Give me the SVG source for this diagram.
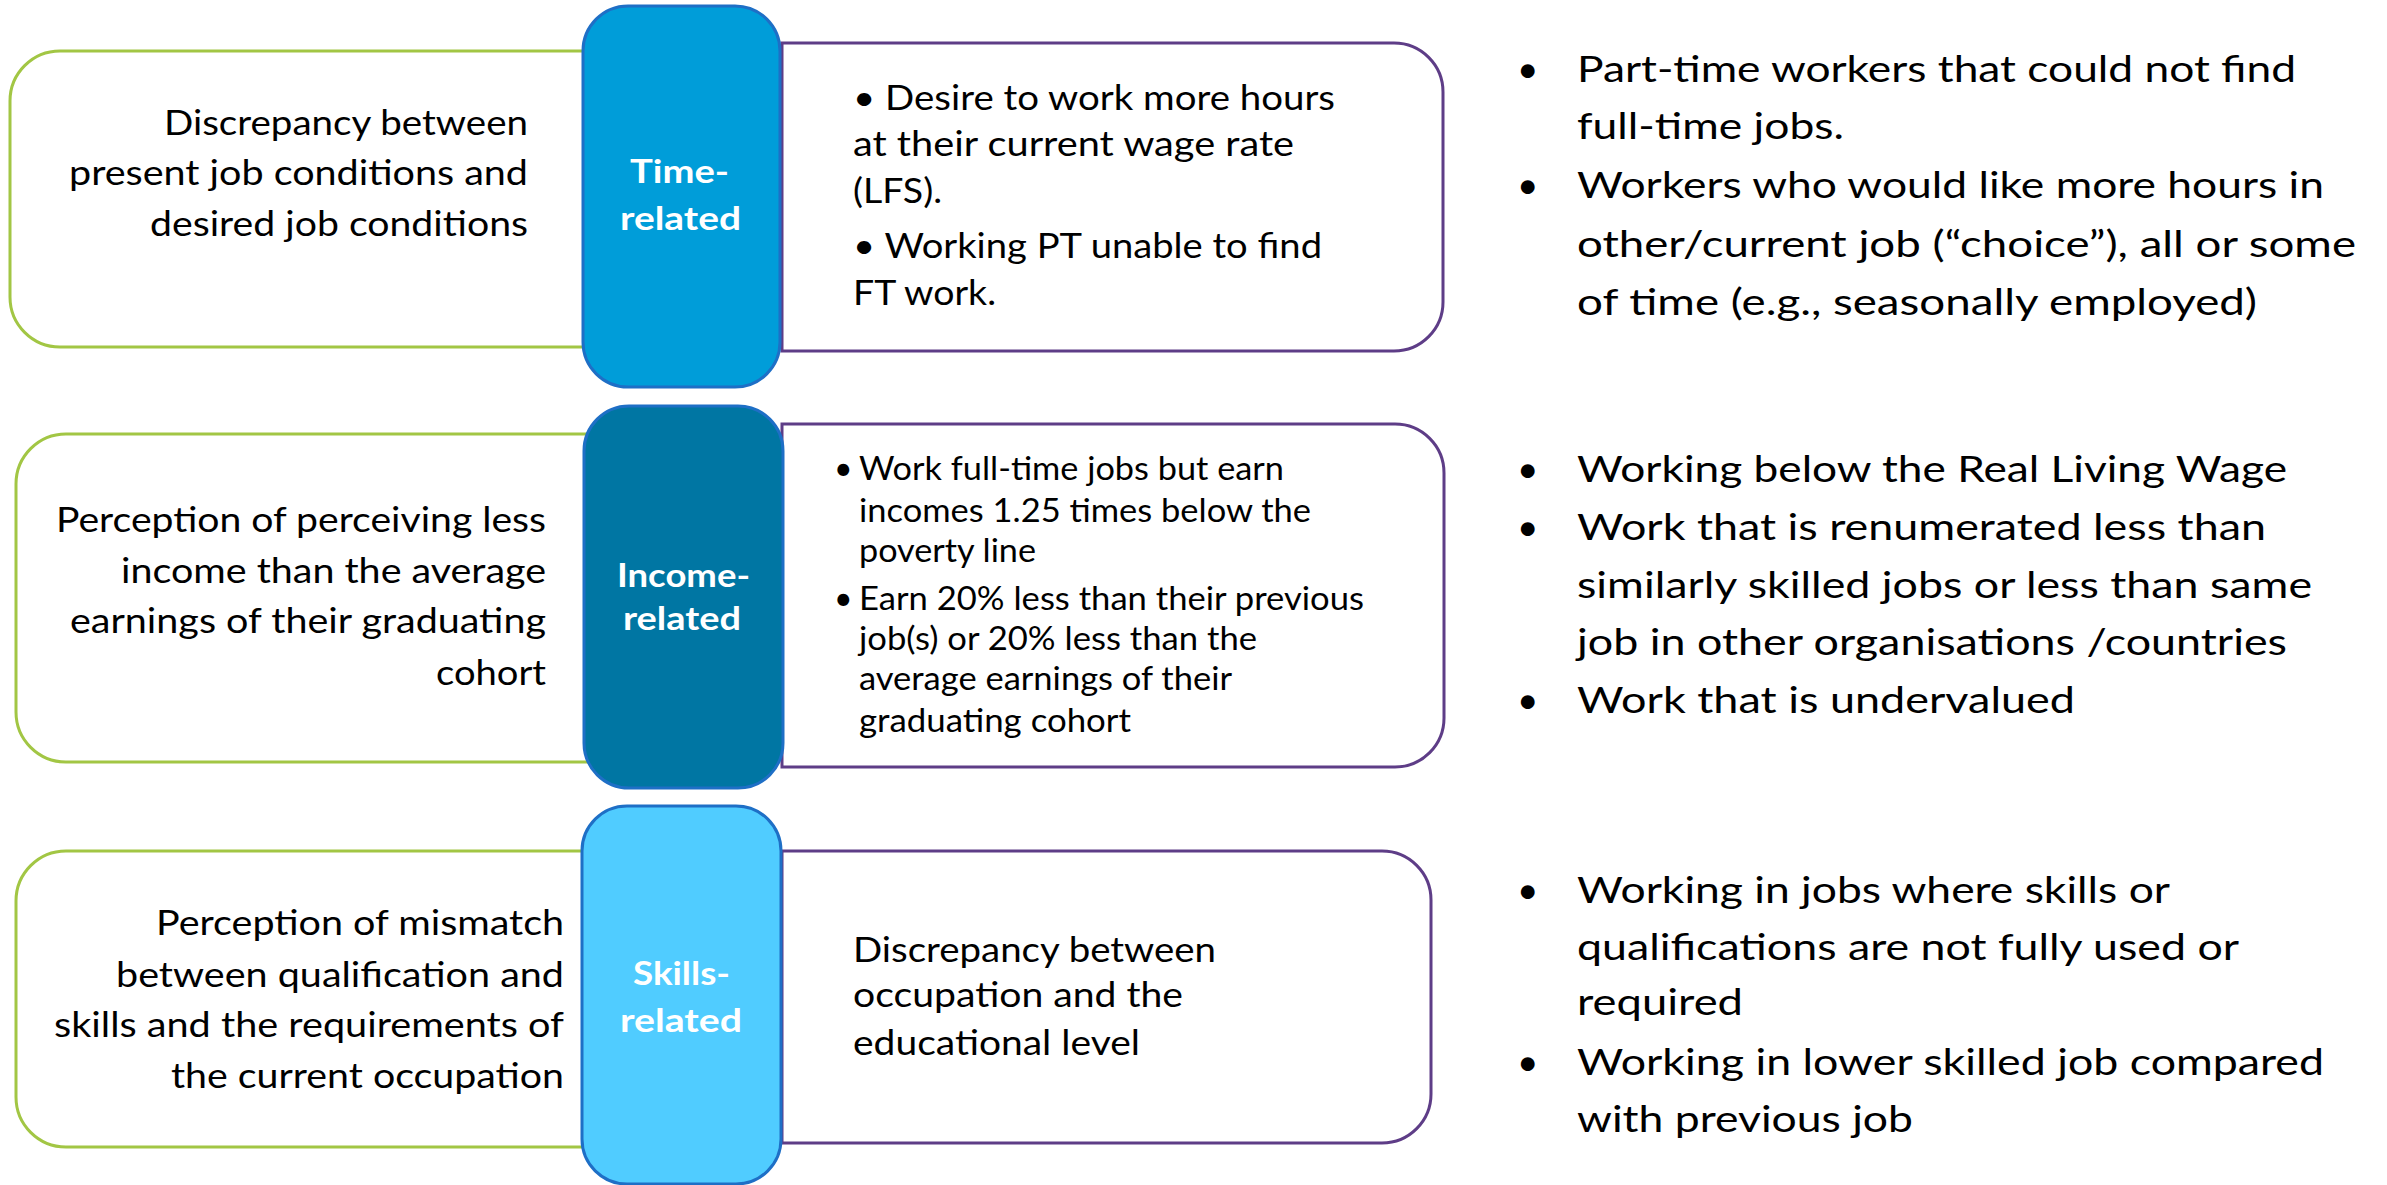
<svg xmlns="http://www.w3.org/2000/svg" width="2387" height="1185" viewBox="0 0 2387 1185">
<style>
.outer{fill:#fff;stroke:#A2C644;stroke-width:3}
.detail{fill:#fff;stroke:#5E3D87;stroke-width:3}
.tag{stroke:#1E6FC6;stroke-width:3}
.t1{fill:#009DD9}
.t2{fill:#0076A3}
.t3{fill:#50CCFF}
text{font-family:Lato,Carlito,"Liberation Sans",sans-serif;fill:#000}
.lt{font-size:35px}
.lab{font-size:33px;font-weight:700;fill:#fff}
.m1{font-size:34px}
.m2{font-size:32px}
.m3{font-size:35px}
.rt{font-size:37px}
</style>
<rect width="2387" height="1185" fill="#fff"/>

<!-- Row 1: time-related -->
<g id="time-definition">
  <rect class="outer" x="10" y="51" width="640" height="296" rx="50"/>
  <text class="lt" x="164" y="135" textLength="364" lengthAdjust="spacingAndGlyphs">Discrepancy between</text>
  <text class="lt" x="69" y="185" textLength="459" lengthAdjust="spacingAndGlyphs">present job conditions and</text>
  <text class="lt" x="150" y="236" textLength="378" lengthAdjust="spacingAndGlyphs">desired job conditions</text>
</g>
<g id="time-indicators">
  <path class="detail" d="M782,43 H1394 A49,49 0 0 1 1443,92 V302 A49,49 0 0 1 1394,351 H782 Z"/>
  <text class="m1" x="853" y="110" textLength="482" lengthAdjust="spacingAndGlyphs">• Desire to work more hours</text>
  <text class="m1" x="853" y="156" textLength="441" lengthAdjust="spacingAndGlyphs">at their current wage rate</text>
  <text class="m1" x="853" y="203" textLength="89" lengthAdjust="spacingAndGlyphs">(LFS).</text>
  <text class="m1" x="853" y="258" textLength="469" lengthAdjust="spacingAndGlyphs">• Working PT unable to find</text>
  <text class="m1" x="853" y="305" textLength="143" lengthAdjust="spacingAndGlyphs">FT work.</text>
</g>
<g id="time-tag">
  <rect class="tag t1" x="583" y="6" width="197" height="381" rx="45"/>
  <text class="lab" x="630" y="183" textLength="99" lengthAdjust="spacingAndGlyphs">Time-</text>
  <text class="lab" x="620" y="230" textLength="121" lengthAdjust="spacingAndGlyphs">related</text>
</g>
<g id="time-examples">
  <text class="rt" x="1517" y="82">•</text>
  <text class="rt" x="1577" y="82" textLength="719" lengthAdjust="spacingAndGlyphs">Part-time workers that could not find</text>
  <text class="rt" x="1577" y="139" textLength="267" lengthAdjust="spacingAndGlyphs">full-time jobs.</text>
  <text class="rt" x="1517" y="198">•</text>
  <text class="rt" x="1577" y="198" textLength="747" lengthAdjust="spacingAndGlyphs">Workers who would like more hours in</text>
  <text class="rt" x="1577" y="257" textLength="779" lengthAdjust="spacingAndGlyphs">other/current job (“choice”), all or some</text>
  <text class="rt" x="1577" y="315" textLength="680" lengthAdjust="spacingAndGlyphs">of time (e.g., seasonally employed)</text>
</g>

<!-- Row 2: income-related -->
<g id="income-definition">
  <rect class="outer" x="16" y="434" width="640" height="328" rx="50"/>
  <text class="lt" x="56" y="532" textLength="490" lengthAdjust="spacingAndGlyphs">Perception of perceiving less</text>
  <text class="lt" x="121" y="583" textLength="425" lengthAdjust="spacingAndGlyphs">income than the average</text>
  <text class="lt" x="70" y="633" textLength="476" lengthAdjust="spacingAndGlyphs">earnings of their graduating</text>
  <text class="lt" x="436" y="685" textLength="110" lengthAdjust="spacingAndGlyphs">cohort</text>
</g>
<g id="income-indicators">
  <path class="detail" d="M782,424 H1395 A49,49 0 0 1 1444,473 V718 A49,49 0 0 1 1395,767 H782 Z"/>
  <text class="m2" x="834" y="480">•</text>
  <text class="m2" x="859" y="480" textLength="425" lengthAdjust="spacingAndGlyphs">Work full-time jobs but earn</text>
  <text class="m2" x="859" y="522" textLength="452" lengthAdjust="spacingAndGlyphs">incomes 1.25 times below the</text>
  <text class="m2" x="859" y="562" textLength="177" lengthAdjust="spacingAndGlyphs">poverty line</text>
  <text class="m2" x="834" y="610">•</text>
  <text class="m2" x="859" y="610" textLength="505" lengthAdjust="spacingAndGlyphs">Earn 20% less than their previous</text>
  <text class="m2" x="859" y="650" textLength="398" lengthAdjust="spacingAndGlyphs">job(s) or 20% less than the</text>
  <text class="m2" x="859" y="690" textLength="373" lengthAdjust="spacingAndGlyphs">average earnings of their</text>
  <text class="m2" x="859" y="732" textLength="272" lengthAdjust="spacingAndGlyphs">graduating cohort</text>
</g>
<g id="income-tag">
  <rect class="tag t2" x="584" y="406" width="199" height="382" rx="45"/>
  <text class="lab" x="617" y="587" textLength="133" lengthAdjust="spacingAndGlyphs">Income-</text>
  <text class="lab" x="623" y="630" textLength="118" lengthAdjust="spacingAndGlyphs">related</text>
</g>
<g id="income-examples">
  <text class="rt" x="1517" y="482">•</text>
  <text class="rt" x="1577" y="482" textLength="710" lengthAdjust="spacingAndGlyphs">Working below the Real Living Wage</text>
  <text class="rt" x="1517" y="540">•</text>
  <text class="rt" x="1577" y="540" textLength="689" lengthAdjust="spacingAndGlyphs">Work that is renumerated less than</text>
  <text class="rt" x="1577" y="598" textLength="735" lengthAdjust="spacingAndGlyphs">similarly skilled jobs or less than same</text>
  <text class="rt" x="1577" y="655" textLength="710" lengthAdjust="spacingAndGlyphs">job in other organisations /countries</text>
  <text class="rt" x="1517" y="713">•</text>
  <text class="rt" x="1577" y="713" textLength="498" lengthAdjust="spacingAndGlyphs">Work that is undervalued</text>
</g>

<!-- Row 3: skills-related -->
<g id="skills-definition">
  <rect class="outer" x="16" y="851" width="640" height="296" rx="50"/>
  <text class="lt" x="156" y="935" textLength="408" lengthAdjust="spacingAndGlyphs">Perception of mismatch</text>
  <text class="lt" x="116" y="987" textLength="448" lengthAdjust="spacingAndGlyphs">between qualification and</text>
  <text class="lt" x="54" y="1037" textLength="510" lengthAdjust="spacingAndGlyphs">skills and the requirements of</text>
  <text class="lt" x="171" y="1088" textLength="393" lengthAdjust="spacingAndGlyphs">the current occupation</text>
</g>
<g id="skills-indicators">
  <path class="detail" d="M782,851 H1382 A49,49 0 0 1 1431,900 V1094 A49,49 0 0 1 1382,1143 H782 Z"/>
  <text class="m3" x="853" y="962" textLength="363" lengthAdjust="spacingAndGlyphs">Discrepancy between</text>
  <text class="m3" x="853" y="1007" textLength="330" lengthAdjust="spacingAndGlyphs">occupation and the</text>
  <text class="m3" x="853" y="1055" textLength="287" lengthAdjust="spacingAndGlyphs">educational level</text>
</g>
<g id="skills-tag">
  <rect class="tag t3" x="582" y="806" width="199" height="378" rx="45"/>
  <text class="lab" x="633" y="985" textLength="97" lengthAdjust="spacingAndGlyphs">Skills-</text>
  <text class="lab" x="620" y="1032" textLength="122" lengthAdjust="spacingAndGlyphs">related</text>
</g>
<g id="skills-examples">
  <text class="rt" x="1517" y="903">•</text>
  <text class="rt" x="1577" y="903" textLength="593" lengthAdjust="spacingAndGlyphs">Working in jobs where skills or</text>
  <text class="rt" x="1577" y="960" textLength="662" lengthAdjust="spacingAndGlyphs">qualifications are not fully used or</text>
  <text class="rt" x="1577" y="1015" textLength="166" lengthAdjust="spacingAndGlyphs">required</text>
  <text class="rt" x="1517" y="1075">•</text>
  <text class="rt" x="1577" y="1075" textLength="747" lengthAdjust="spacingAndGlyphs">Working in lower skilled job compared</text>
  <text class="rt" x="1577" y="1132" textLength="336" lengthAdjust="spacingAndGlyphs">with previous job</text>
</g>
</svg>
